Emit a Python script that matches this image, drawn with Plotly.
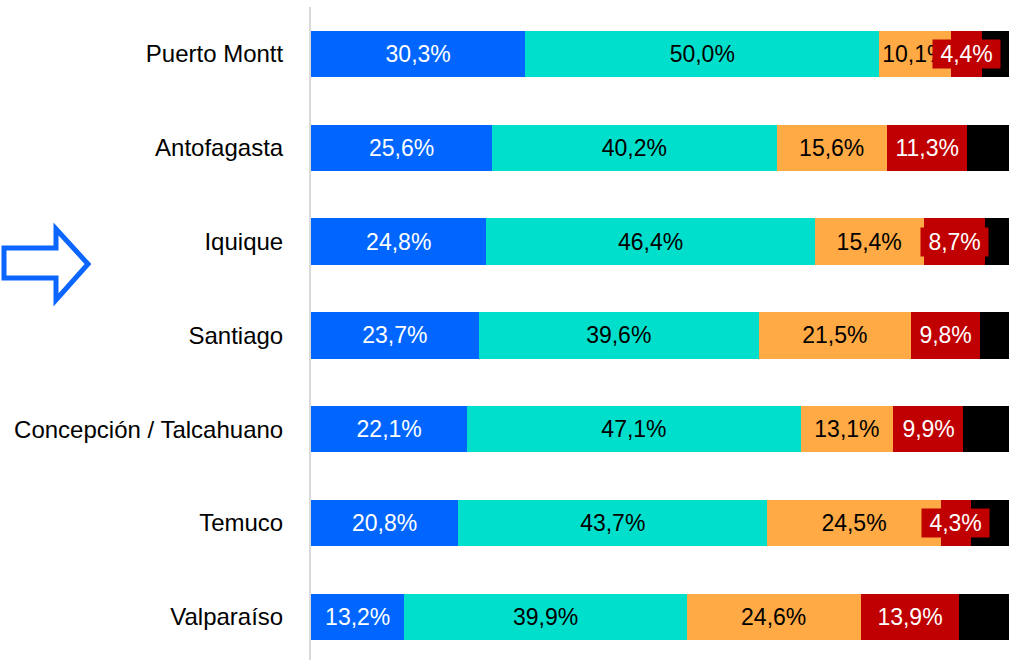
import plotly.graph_objects as go

cities = ["Puerto Montt", "Antofagasta", "Iquique", "Santiago",
          "Concepción / Talcahuano", "Temuco", "Valparaíso"]
s1 = [30.3, 25.6, 24.8, 23.7, 22.1, 20.8, 13.2]
s2 = [50.0, 40.2, 46.4, 39.6, 47.1, 43.7, 39.9]
s3 = [10.1, 15.6, 15.4, 21.5, 13.1, 24.5, 24.6]
s4 = [4.4, 11.3, 8.7, 9.8, 9.9, 4.3, 13.9]
s5 = [round(100 - a - b - c - d, 1) for a, b, c, d in zip(s1, s2, s3, s4)]

colors = ["#0066ff", "#00dfcc", "#ffaa44", "#c00000", "#000000"]
text_colors = ["white", "black", "black", "white", "white"]

def fmt(v):
    return f"{v:.1f}%".replace(".", ",")

W, H = 1009, 660
ML, MT, MB, MR = 311, 7, 0, 0
PW, PH = W - ML - MR, H - MT - MB
FONT = "Liberation Sans, Arial"

fig = go.Figure()
series = [s1, s2, s3, s4, s5]
for i, vals in enumerate(series):
    show_text = i < 3
    fig.add_trace(go.Bar(
        y=cities, x=vals, orientation="h",
        marker=dict(color=colors[i], line=dict(width=0)),
        text=[fmt(v) for v in vals] if show_text else None,
        textposition="inside" if show_text else "none",
        insidetextanchor="middle",
        textangle=0,
        textfont=dict(size=23, color=text_colors[i], family=FONT),
        hoverinfo="skip",
    ))

# red-segment labels with red boxes
annotations = []
for c, a, b, d, e in zip(cities, s1, s2, s3, s4):
    center = a + b + d + e / 2
    annotations.append(dict(
        x=center, y=c, xref="x", yref="y",
        text="\u00a0" + fmt(e) + "\u00a0", showarrow=False,
        font=dict(size=23, color="white", family=FONT),
        bgcolor="#c00000", borderpad=1,
    ))

def px(x):
    return (x - ML) / PW

def py(y):
    return (H - MB - y) / PH

arrow_pts = [(4, 248), (56, 248), (56, 229), (88, 264), (56, 300), (56, 278), (4, 278)]
path = "M " + " L ".join(f"{px(x):.5f},{py(y):.5f}" for x, y in arrow_pts) + " Z"

fig.update_layout(
    width=W, height=H,
    barmode="stack", bargap=0.505,
    margin=dict(l=ML, r=MR, t=MT, b=MB),
    plot_bgcolor="white", paper_bgcolor="white",
    showlegend=False,
    font=dict(family=FONT, color="black"),
    uniformtext=dict(mode="show", minsize=23),
    annotations=annotations,
    shapes=[dict(type="path", xref="paper", yref="paper", path=path,
                 line=dict(color="#0a66ff", width=5), fillcolor="rgba(0,0,0,0)")],
    xaxis=dict(range=[0, 98.66], showgrid=False, zeroline=False,
               showticklabels=False, showline=False, fixedrange=True),
    yaxis=dict(categoryorder="array", categoryarray=cities,
               range=[6.46, -0.5], showgrid=False, zeroline=False,
               showline=True, linecolor="#d9d9d9", linewidth=2,
               ticks="", ticklabelstandoff=21,
               tickfont=dict(size=24, color="black", family=FONT)),
)

fig.write_html(
    "out.html",
    config={"displayModeBar": False},
    post_script="document.body.style.margin='0';document.body.style.overflow='hidden';",
)
